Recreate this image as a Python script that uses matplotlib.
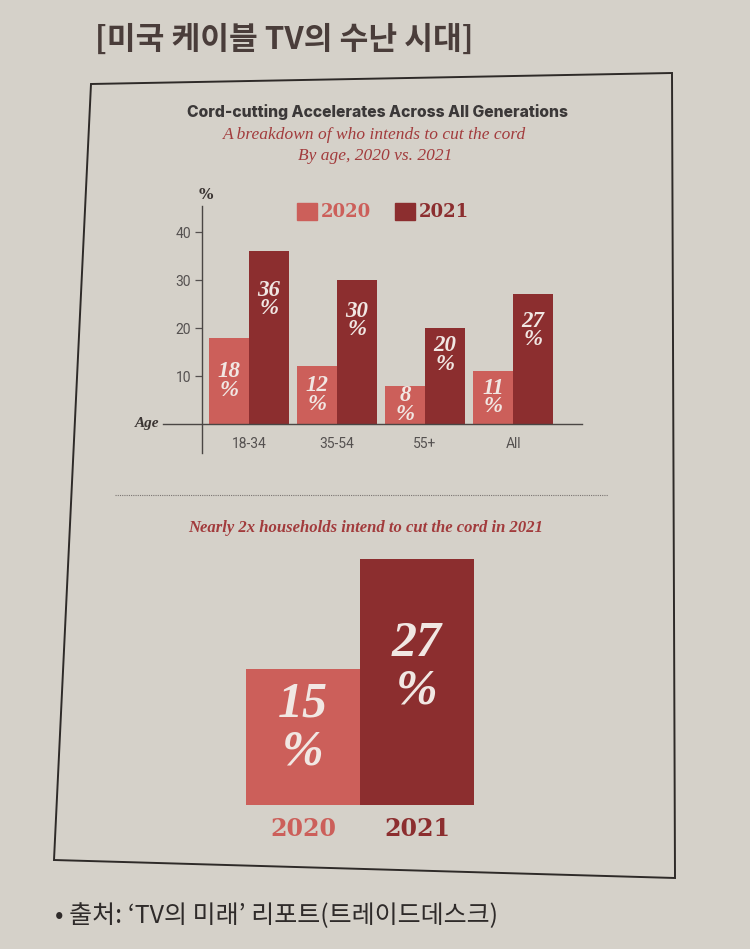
import matplotlib.pyplot as plt
from matplotlib.patches import Polygon, Patch
from matplotlib.lines import Line2D
import numpy as np

# -----------------------------
# Data
# -----------------------------
age_groups = ["18-34", "35-54", "55+", "All"]
share_2020 = [18, 12, 8, 11]
share_2021 = [36, 30, 20, 27]
y_ticks = [10, 20, 30, 40]

years = ["2020", "2021"]
households = [15, 27]

# -----------------------------
# Style
# -----------------------------
W, H = 750, 949
PAPER = "#d5d1c9"
C2020 = "#cc5f5a"
C2021 = "#8c2e2f"
RED_TXT = "#a23b3c"
INK = "#3a3432"
BAR_TXT = "#f1e7e3"
KR = ["Noto Sans CJK KR", "DejaVu Sans"]


def box(l, t, r, b):
    # pixel box -> figure coords
    return [l / W, 1 - b / H, (r - l) / W, (b - t) / H]


def fx(x):
    return x / W


def fy(y):
    return 1 - y / H


fig = plt.figure(figsize=(W / 100, H / 100), dpi=100, facecolor=PAPER)

# frame (photo is a bit skewed)
frame = Polygon([(fx(91), fy(84)), (fx(672), fy(73)), (fx(675), fy(878)), (fx(54), fy(860))],
                closed=True, transform=fig.transFigure, fill=False,
                edgecolor="#2e2a28", lw=1.4)
fig.patches.append(frame)

# -----------------------------
# Titles
# -----------------------------
fig.text(fx(95), fy(40), "[미국 케이블 TV의 수난 시대]", family=KR, weight="heavy",
         fontsize=22.5, color="#4a3d3a", ha="left", va="center")

fig.text(fx(377), fy(112), "Cord-cutting Accelerates Across All Generations",
         family="Inter", weight="heavy", fontsize=11.3, color="#3b3838",
         ha="center", va="center")
fig.text(fx(375), fy(135), "A breakdown of who intends to cut the cord",
         family="Liberation Serif", style="italic", fontsize=12.5, color=RED_TXT,
         ha="center", va="center")
fig.text(fx(375), fy(156), "By age, 2020 vs. 2021",
         family="Liberation Serif", style="italic", fontsize=12.5, color=RED_TXT,
         ha="center", va="center")

# -----------------------------
# Top chart: by age
# -----------------------------
ax = fig.add_axes(box(120, 185, 600, 460))
ax.set_facecolor("none")
ax.set_xlim((120 - 249) / 88, (600 - 249) / 88)
ax.set_ylim((424 - 460) / 4.8, (424 - 185) / 4.8)

x = np.arange(len(age_groups))
bw = 40 / 88
ax.bar(x - bw / 2, share_2020, bw, color=C2020, zorder=2)
ax.bar(x + bw / 2, share_2021, bw, color=C2021, zorder=2)

for xi, v in zip(x, share_2020):
    ax.text(xi - bw / 2, v * 0.5, f"{v}\n%", ha="center", va="center",
            color=BAR_TXT, family="Liberation Serif", style="italic",
            weight="bold", fontsize=16.5, linespacing=0.85, zorder=3)
for xi, v in zip(x, share_2021):
    ax.text(xi + bw / 2, v * 0.72, f"{v}\n%", ha="center", va="center",
            color=BAR_TXT, family="Liberation Serif", style="italic",
            weight="bold", fontsize=16.5, linespacing=0.85, zorder=3)

ax.spines["top"].set_visible(False)
ax.spines["right"].set_visible(False)
ax.spines["left"].set_position(("data", (202 - 249) / 88))
ax.spines["left"].set_bounds(-6.0, 45.5)
ax.spines["bottom"].set_position(("data", 0))
ax.spines["bottom"].set_bounds((163 - 249) / 88, (582 - 249) / 88)
for s in ("left", "bottom"):
    ax.spines[s].set_color("#4a4644")
    ax.spines[s].set_linewidth(1.0)

ax.set_yticks(y_ticks)
ax.set_yticklabels([str(t) for t in y_ticks])
ax.tick_params(axis="y", direction="out", length=5, width=0.9, colors="#555150",
               labelsize=10, pad=3)
ax.set_xticks(x)
ax.set_xticklabels(age_groups)
ax.tick_params(axis="x", length=0, colors="#555150", labelsize=10, pad=9)
for lab in ax.get_xticklabels() + ax.get_yticklabels():
    lab.set_family("Roboto")

fig.text(fx(206), fy(195), "%", family="DejaVu Serif", weight="bold",
         fontsize=11, color=INK, ha="center", va="center")
fig.text(fx(147), fy(423), "Age", family="Liberation Serif", weight="bold",
         style="italic", fontsize=11, color=INK, ha="center", va="center")

handles = [Patch(color=C2020, label="2020"), Patch(color=C2021, label="2021")]
leg = fig.legend(handles=handles, loc="center", bbox_to_anchor=(fx(383), fy(212)),
                 ncol=2, frameon=False,
                 prop=dict(family="DejaVu Serif", weight="bold", size=13),
                 handlelength=1.1, handleheight=1.1, handletextpad=0.25,
                 columnspacing=1.3)
for t, c in zip(leg.get_texts(), [C2020, C2021]):
    t.set_color(c)

# dotted separator
fig.add_artist(Line2D([fx(115), fx(608)], [fy(495), fy(495)], transform=fig.transFigure,
                      ls=(0, (1, 1)), color="#7a7572", lw=0.8))

# -----------------------------
# Bottom chart: households
# -----------------------------
fig.text(fx(366), fy(528), "Nearly 2x households intend to cut the cord in 2021",
         family="Liberation Serif", style="italic", weight="bold", fontsize=12,
         color=RED_TXT, ha="center", va="center")

ax2 = fig.add_axes(box(200, 545, 520, 805))
ax2.set_facecolor("none")
ax2.set_xlim((200 - 303) / 114, (520 - 303) / 114)
ax2.set_ylim(0, (805 - 545) / 9.1)

xb = np.arange(len(years))
ax2.bar(xb, households, 1.0, color=[C2020, C2021])
for xi, v in zip(xb, households):
    ax2.text(xi, v * 0.56, f"{v}\n%", ha="center", va="center", color=BAR_TXT,
             family="Liberation Serif", style="italic", weight="bold",
             fontsize=36, linespacing=1.05)

for s in ax2.spines.values():
    s.set_visible(False)
ax2.set_yticks([])
ax2.set_xticks(xb)
ax2.set_xticklabels(years)
ax2.tick_params(axis="x", length=0, labelsize=17, pad=9)
for lab, c in zip(ax2.get_xticklabels(), [C2020, C2021]):
    lab.set_color(c)
    lab.set_family("DejaVu Serif")
    lab.set_weight("bold")

# -----------------------------
# Source
# -----------------------------
fig.text(fx(55), fy(916), "• 출처: ‘TV의 미래’ 리포트(트레이드데스크)", family=KR,
         fontsize=18, color="#2f2b2a", ha="left", va="center")

plt.savefig("out.png", dpi=100, facecolor=PAPER)
